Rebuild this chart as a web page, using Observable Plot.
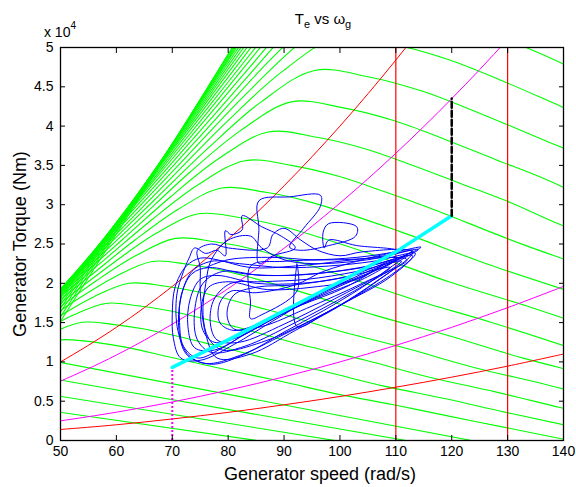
<!DOCTYPE html>
<html><head><meta charset="utf-8">
<script src="https://cdn.jsdelivr.net/npm/d3@7"></script>
<script src="https://cdn.jsdelivr.net/npm/@observablehq/plot@0.6"></script>
<style>body{margin:0;background:#fff;} #chart{width:576px;height:487px;}</style>
</head><body><div id="chart"></div>
<script>
// Axis ticks (speed in rad/s, torque in units of 10^4 Nm)
const xTicks = [50, 60, 70, 80, 90, 100, 110, 120, 130, 140];
const yTicks = [0, 0.5, 1, 1.5, 2, 2.5, 3, 3.5, 4, 4.5, 5];

// Constant-wind-speed torque/speed curves (green), each a list of [speed, torque(1e4 Nm)]
const speedCurves = [
  [[45,0.41],[90,-0.05]],
  [[45,0.62],[100,-0.01]],
  [[45,0.83],[115,-0.04]],
  [[45,1.06],[125,-0.02]],
  [[44.8,1.17],[49.8,1.28],[59.8,1.21],[69.7,1.06],[79.7,0.90],[89.6,0.75],[99.6,0.59],[109.6,0.455],[119.5,0.31],[129.5,0.167],[139.4,0.026],[149.4,-0.115]],
  [[43.2,1.19],[48.6,1.376],[53.95,1.504],[59.3,1.478],[64.7,1.421],[75.5,1.248],[86.3,1.053],[97.1,0.88],[107.9,0.692],[118.7,0.534],[129.5,0.361],[140.3,0.196],[151,0.02]],
  [[46.5,1.378],[52.3,1.596],[58.1,1.744],[63.9,1.714],[69.7,1.648],[81.3,1.448],[93,1.221],[104.6,1.02],[116.2,0.802],[127.8,0.619],[139.4,0.419],[151,0.227]],
  [[43.6,1.30],[49.8,1.58],[56,1.83],[62.25,2.0],[68.5,1.966],[74.7,1.89],[87.2,1.66],[99.6,1.40],[112,1.17],[124.5,0.92],[137,0.71],[149.4,0.48]],
  [[46.5,1.48],[53.1,1.80],[59.8,2.084],[66.4,2.278],[73,2.239],[79.7,2.153],[93,1.891],[106.2,1.595],[119.5,1.333],[132.8,1.048],[146.1,0.809]],
  [[42.3,1.31],[49.4,1.672],[56.4,2.032],[63.5,2.353],[70.55,2.572],[77.6,2.528],[84.7,2.431],[98.8,2.135],[112.9,1.80],[127,1.505],[141.1,1.183]],
  [[44.8,1.471],[52.3,1.875],[59.8,2.278],[67.2,2.639],[74.7,2.884],[82.2,2.835],[89.6,2.725],[104.6,2.394],[119.5,2.019],[134.5,1.687],[149.4,1.327]],
  [[39.4,1.19],[47.3,1.639],[55.2,2.088],[63.1,2.538],[71,2.94],[78.85,3.213],[86.7,3.158],[94.6,3.036],[110.4,2.667],[126.2,2.249],[141.9,1.88]],
  [[41.5,1.32],[49.8,1.816],[58.1,2.314],[66.4,2.812],[74.7,3.257],[83,3.56],[91.3,3.5],[99.6,3.364],[107.9,3.168],[116.2,2.955],[132.8,2.492],[149.4,2.083]],
  [[43.6,1.452],[52.3,2.002],[61,2.551],[69.7,3.101],[78.4,3.591],[87.15,3.925],[95.9,3.858],[104.6,3.709],[113.3,3.493],[122,3.258],[130.7,3.022],[139.4,2.748],[156.9,2.296]],
  [[45.65,1.594],[54.8,2.197],[63.9,2.80],[73,3.403],[82.2,3.942],[91.3,4.308],[100.4,4.235],[109.6,4.071],[118.7,3.834],[127.8,3.576],[137,3.317],[146.1,3.016]],
  [[47.7,1.742],[57.3,2.401],[66.8,3.06],[76.4,3.719],[85.9,4.308],[95.45,4.708],[105,4.628],[114.5,4.449],[124.1,4.19],[133.6,3.908],[143.2,3.625]],
  [[39.8,1.205],[49.8,1.897],[59.8,2.614],[69.7,3.332],[79.7,4.05],[89.6,4.69],[99.6,5.126],[109.6,5.039],[119.5,4.844],[129.5,4.562],[139.4,4.255],[149.4,3.947]],
  [[41.5,1.307],[51.9,2.058],[62.25,2.837],[72.6,3.616],[83,4.394],[93.4,5.09],[103.75,5.563],[114.1,5.468],[124.5,5.257],[134.9,4.951],[145.3,4.617]],
  [[43.2,1.414],[53.95,2.226],[64.7,3.068],[75.5,3.91],[86.3,4.753],[97.1,5.505]],
  [[44.8,1.525],[56,2.4],[67.2,3.309],[78.4,4.217],[89.6,5.126]],
  [[46.5,1.64],[58.1,2.582],[69.7,3.559],[81.3,4.536],[93,5.513]],
  [[36.1,0.786],[48.1,1.759],[60.2,2.769],[72.2,3.817],[84.2,4.865],[96.3,5.913]],
  [[37.35,0.84],[49.8,1.882],[62.25,2.964],[74.7,4.085],[87.2,5.207]],
  [[38.6,0.898],[51.5,2.01],[64.3,3.165],[77.2,4.362],[90.1,5.559]],
  [[39.8,0.957],[53.1,2.142],[66.4,3.372],[79.7,4.648],[93,5.924]],
  [[41.1,1.018],[54.8,2.278],[68.5,3.586],[82.2,4.943],[95.9,6.3]],
  [[42.3,1.08],[56.4,2.418],[70.55,3.807],[84.7,5.247]],
  [[43.6,1.145],[58.1,2.562],[72.6,4.033],[87.2,5.56]],
  [[44.8,1.211],[59.8,2.71],[74.7,4.268],[89.6,5.882]],
  [[46.1,1.279],[61.4,2.863],[76.8,4.508],[92.1,6.214]],
  [[39.4,0.51],[47.3,1.349],[63.1,3.02],[78.85,4.755],[94.6,6.555]],
  [[40.5,0.54],[48.6,1.421],[64.7,3.181],[80.9,5.009]],
  [[41.5,0.57],[49.8,1.495],[66.4,3.346],[83,5.265]]
];

// Quadratic torque lines (red / magenta)
const curveSpeed = [45, 50, 60, 70, 80, 90, 100, 110, 120, 130, 140];
const redUpper   = [0.81, 1.0, 1.44, 1.96, 2.56, 3.24, 4.0, 4.84, 5.76, 6.76, 7.84];
const magUpper   = [0.61, 0.755, 1.087, 1.48, 1.933, 2.446, 3.02, 3.654, 4.349, 5.104, 5.92];
const magLower   = [0.2, 0.25, 0.36, 0.49, 0.64, 0.81, 1.0, 1.21, 1.44, 1.69, 1.96];
const redLower   = [0.113, 0.14, 0.20, 0.274, 0.358, 0.454, 0.56, 0.678, 0.806, 0.946, 1.10];

// Speed limits (red verticals) and minimum speed (magenta dotted)
const speedLimits = [110, 130];
const minSpeed = 70;

// Control law (cyan) and transition (black dashed)
const cyanSpeed  = [70, 80, 90, 100, 110, 120];
const cyanTorque = [0.93, 1.28, 1.65, 2.02, 2.40, 2.86];
const dashSpeed  = [120, 120];
const dashTorque = [2.86, 4.35];

// Operating trajectory (blue)
const blueSpeed = [76,80,88,95,103,110,114.5,110,104,96,88,81,75,71.5,70.2,70,70.5,72.5,75,78,
  84,92,100,108,113,108,100,92,85,79,74.5,72,71.3,71.6,73.5,76.5,
  83,91,99,107,112,106,98,90,83,77.5,74,72.8,73.2,75,78,
  85,93,101,110,104,96,88,82,77.5,75.5,75.2,76.5,80,
  87,95,103,108,101,93,86,81,78.5,78.5,80.5,85,
  92,97,104,110,103,98,97.2,97,98,103,102.8,98,93,91,93.5,96.5,96.5,91,85.5,85.5,85.5,88,92,89.5,86,82.5,82.5,80.5,79.5,79.5,78,76,74,73,72,70.8,71,73,77,83,90,97,104,111,114,105,95,90,86,84,80,77,76,75.5,76.5,79,86,94,102,110,113.5,
  106,98,90,82,77,73.5,71.5,71.2,72.5,76,82,90,100,109,113,
  104,95,86,79,75.5,74,74.5,77,83,92,102,111,
  103,94,86,80.5,77.5,76.8,78,82,90,99,109,
  101,92,85,81,79.8,81,86,94,104,112,
  100,90,84,84,84,86,92.3,92.3,92.3,97,106,113,
  104,100,96,93,90,88,87,80,77,74.5,75,75,76,78,84,92,102,110];
const blueTorque = [2.2,2.3,2.33,2.3,2.33,2.4,2.46,2.3,2.12,1.85,1.52,1.22,1.02,1.05,1.3,1.6,1.95,2.22,2.32,2.3,
  2.2,2.22,2.28,2.35,2.42,2.22,1.98,1.72,1.45,1.18,1.05,1.2,1.5,1.85,2.12,2.2,
  2.12,2.1,2.15,2.25,2.36,2.15,1.9,1.62,1.35,1.15,1.18,1.45,1.8,2.05,2.1,
  2.0,2.0,2.08,2.3,2.05,1.82,1.55,1.32,1.25,1.4,1.7,1.95,2.02,
  1.92,1.95,2.05,2.25,1.95,1.72,1.5,1.4,1.5,1.75,1.9,1.88,
  1.98,2.15,2.3,2.42,2.48,2.55,2.45,2.65,2.76,2.72,2.6,2.48,2.42,2.46,2.7,2.98,3.12,3.1,3.05,2.7,2.25,2.35,2.45,2.6,2.72,2.86,2.68,2.62,2.67,2.35,2.42,2.38,2.45,2.32,2.15,1.85,1.4,1.08,0.97,1.1,1.38,1.65,1.95,2.3,2.43,2.3,2.25,2.3,2.45,2.6,2.55,2.3,2.0,1.6,1.3,1.15,1.25,1.5,1.8,2.15,2.38,
  2.28,2.22,2.2,2.25,2.28,2.15,1.8,1.4,1.1,0.98,1.08,1.35,1.72,2.08,2.35,
  2.2,2.12,2.1,2.15,2.0,1.65,1.28,1.12,1.2,1.5,1.88,2.28,
  2.15,2.05,2.02,2.0,1.8,1.5,1.28,1.25,1.48,1.8,2.2,
  2.08,1.98,1.95,1.85,1.6,1.42,1.45,1.68,2.0,2.3,
  2.3,2.28,2.22,1.75,1.55,1.6,1.9,2.25,1.45,1.6,2.0,2.4,
  2.4,2.35,2.42,2.55,2.7,2.62,2.45,2.45,2.5,2.42,2.2,1.9,1.35,1.05,1.1,1.4,1.8,2.2];

const greenRows = speedCurves.flatMap((pts, i) => pts.map(([x, y]) => ({curve: i, x, y})));
const rows = (xs, ys) => xs.map((x, i) => ({x, y: ys[i]}));

const font = "Liberation Sans, Arial, Helvetica, sans-serif";

const chart = Plot.plot({
  width: 576, height: 487,
  marginLeft: 60, marginRight: 13, marginTop: 47, marginBottom: 47,
  style: {fontFamily: font, fontSize: "14px", background: "#fff", color: "#000"},
  x: {domain: [50, 140]},
  y: {domain: [0, 5]},
  marks: [
    Plot.line(greenRows, {x: "x", y: "y", z: "curve", stroke: "#00ff00", strokeWidth: 1.1, curve: "catmull-rom", clip: true}),
    Plot.line(rows(curveSpeed, redUpper), {x: "x", y: "y", stroke: "#ff0000", strokeWidth: 1, curve: "catmull-rom", clip: true}),
    Plot.line(rows(curveSpeed, magUpper), {x: "x", y: "y", stroke: "#ff00ff", strokeWidth: 1, curve: "catmull-rom", clip: true}),
    Plot.line(rows(curveSpeed, magLower), {x: "x", y: "y", stroke: "#ff00ff", strokeWidth: 1, curve: "catmull-rom", clip: true}),
    Plot.line(rows(curveSpeed, redLower), {x: "x", y: "y", stroke: "#ff0000", strokeWidth: 1, curve: "catmull-rom", clip: true}),
    Plot.ruleX(speedLimits, {stroke: "#ff0000", strokeWidth: 1.2}),
    Plot.line(rows(blueSpeed, blueTorque), {x: "x", y: "y", stroke: "#0000ff", strokeWidth: 1, curve: "catmull-rom", clip: true}),
    Plot.ruleX([minSpeed], {y1: 0, y2: cyanTorque[0], stroke: "#ff00ff", strokeWidth: 2, strokeDasharray: "2,2"}),
    Plot.line(rows(cyanSpeed, cyanTorque), {x: "x", y: "y", stroke: "#00ffff", strokeWidth: 3.5}),
    Plot.line(rows(dashSpeed, dashTorque), {x: "x", y: "y", stroke: "#000", strokeWidth: 2.5, strokeDasharray: "6,3"}),
    Plot.frame({stroke: "#000", strokeWidth: 1.3}),
    Plot.axisX({ticks: xTicks, tickSize: -5, tickPadding: 11, label: null, fontSize: 14}),
    Plot.axisX({anchor: "top", ticks: xTicks, tickSize: -5, tickFormat: () => "", label: null}),
    Plot.axisY({ticks: yTicks, tickSize: -5, tickPadding: 12, label: null, fontSize: 14, tickFormat: d => String(d)}),
    Plot.axisY({anchor: "right", ticks: yTicks, tickSize: -5, tickFormat: () => "", label: null})
  ]
});
document.getElementById("chart").appendChild(chart);

const svg = d3.select(chart);
const t = svg.append("text").attr("x", 323).attr("y", 24).attr("text-anchor", "middle")
  .attr("font-family", font).attr("font-size", 15).attr("fill", "#000");
t.append("tspan").text("T");
t.append("tspan").attr("dy", 4).attr("font-size", 11).text("e");
t.append("tspan").attr("dy", -4).text(" vs ω");
t.append("tspan").attr("dy", 4).attr("font-size", 11).text("g");

const m = svg.append("text").attr("x", 60).attr("y", 37).attr("font-family", font).attr("font-size", 14).attr("fill", "#000");
m.append("tspan").text("x 10");
m.append("tspan").attr("dy", -8).attr("font-size", 10).text("4");

svg.append("text").attr("x", 320).attr("y", 480).attr("text-anchor", "middle")
  .attr("font-family", font).attr("font-size", 18).attr("fill", "#000").text("Generator speed (rad/s)");
svg.append("text").attr("transform", "translate(26,244) rotate(-90)").attr("text-anchor", "middle")
  .attr("font-family", font).attr("font-size", 18).attr("fill", "#000").text("Generator Torque (Nm)");
</script>
</body></html>
